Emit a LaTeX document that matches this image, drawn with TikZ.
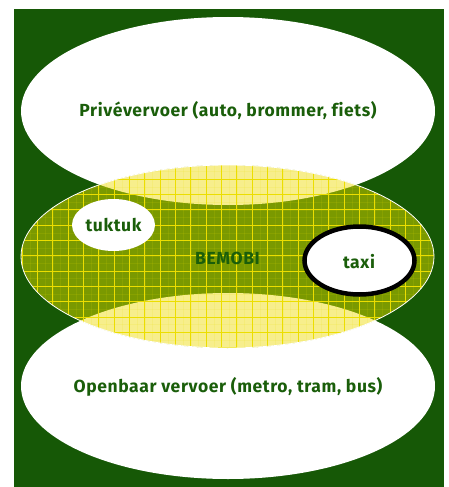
\documentclass[tikz,border=0pt]{standalone}
\usepackage{fontspec}
\setmainfont{Fira Sans}[LetterSpace=3.5, Ligatures=NoCommon]
\usetikzlibrary{shapes.geometric}
\definecolor{bggreen}{RGB}{22,88,6}
\definecolor{txtgreen}{RGB}{26,94,10}
\definecolor{olive}{RGB}{122,153,0}
\definecolor{paleyellow}{RGB}{247,238,140}
\definecolor{gridyellow}{RGB}{236,222,0}
\tikzset{
  lbl/.style={font=\bfseries\fontsize{17.5}{20}\selectfont, text=txtgreen},
  gridline/.style={draw=gridyellow, line width=0.9pt},
  minorline/.style={draw=gridyellow, line width=0.3pt, opacity=0.12},
}
\begin{document}
\begin{tikzpicture}[x=1pt,y=-1pt]
  \useasboundingbox (0,0) rectangle (449,487);
  % background
  \fill[bggreen] (14,9) rectangle (444,487);
  % private and public transport
  \fill[white] (228,111) ellipse [x radius=207, y radius=94];
  \fill[white] (228,386) ellipse [x radius=207, y radius=93];
  % shared mobility area
  \begin{scope}
    \clip (227.5,256.5) ellipse [x radius=206.5, y radius=91.5];
    \fill[olive] (0,0) rectangle (449,487);
    \fill[paleyellow] (228,111) ellipse [x radius=207, y radius=94];
    \fill[paleyellow] (228,386) ellipse [x radius=207, y radius=93];
    \foreach \i in {-24,...,34} {
      \draw[minorline] ({190.7+\i*7.665},150) -- ({190.7+\i*7.665},360);
    }
    \foreach \i in {-4,...,30} {
      \draw[minorline] (10,{179+\i*7.665}) -- (440,{179+\i*7.665});
    }
    \foreach \i in {-12,...,17} {
      \draw[gridline] ({190.7+\i*15.33},150) -- ({190.7+\i*15.33},360);
    }
    \foreach \i in {-2,...,12} {
      \draw[gridline] (10,{179+\i*15.33}) -- (440,{179+\i*15.33});
    }
  \end{scope}
  \draw[white, line width=0.8pt] (227.5,256.5) ellipse [x radius=206.5, y radius=91.5];
  % tuktuk and taxi
  \fill[white] (113.5,225) ellipse [x radius=41.5, y radius=26];
  \draw[black, fill=white, line width=4.5pt] (359.5,260.5) ellipse [x radius=55, y radius=34];
  % labels
  \node[lbl] (prive) at (228,111) {Privévervoer (auto, brommer, fiets)};
  \node[lbl] (bemobi) at (227.5,258) {BEMOBI};
  \node[lbl] (tuktuk) at (113.5,225) {tuktuk};
  \node[lbl] (taxi) at (359,262) {taxi};
  \node[lbl] (ov) at (228,387) {Openbaar vervoer (metro, tram, bus)};
\end{tikzpicture}
\end{document}
